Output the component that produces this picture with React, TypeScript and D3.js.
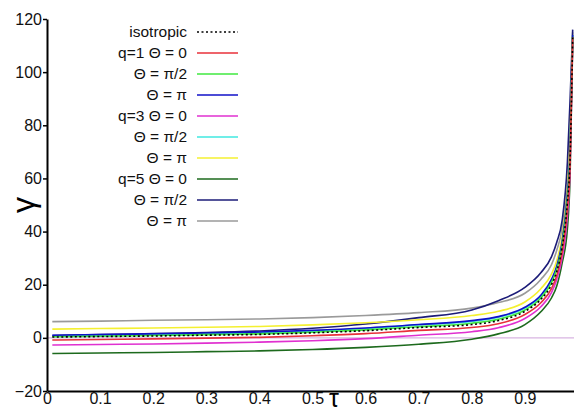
import React, { useEffect, useRef } from "react";
import * as d3 from "d3";

// tau sample points
const tau = [0.01, 0.1, 0.2, 0.3, 0.4, 0.5, 0.6, 0.7, 0.8, 0.85, 0.9, 0.93, 0.95, 0.96, 0.97, 0.98, 0.985, 0.99];

const isotropic = [0.3, 0.5, 0.7, 1.0, 1.3, 1.9, 2.7, 3.9, 5.0, 6.5, 10.0, 14.5, 20.0, 25.0, 34, 51, 67, 113];
const q1Theta0 = [-0.8, -0.6, -0.4, -0.1, 0.2, 0.8, 1.6, 2.8, 3.9, 5.3, 8.8, 13.2, 18.5, 23.5, 32, 49, 65, 113];
const q1ThetaHalfPi = [0.4, 0.6, 0.9, 1.2, 1.5, 2.1, 3.0, 4.2, 5.5, 7.0, 10.5, 15, 20.8, 25.8, 34.5, 52, 68, 113];
const q1ThetaPi = [1.0, 1.2, 1.5, 1.8, 2.2, 2.8, 3.7, 5.0, 6.5, 8.0, 11.5, 16, 22, 27, 36, 54, 70, 114];
const q3Theta0 = [-2.7, -2.5, -2.3, -2.0, -1.6, -1.1, -0.3, 1.0, 2.3, 3.8, 7.3, 11.7, 17, 22, 30, 46, 63, 112];
const q3ThetaHalfPi = [0.6, 0.9, 1.2, 1.5, 1.9, 2.5, 3.5, 4.9, 6.2, 7.8, 11.2, 15.7, 21.5, 26.5, 35.5, 53, 69, 114];
const q3ThetaPi = [3.3, 3.5, 3.7, 4.0, 4.3, 4.9, 5.7, 6.8, 8.4, 10.0, 13.5, 18.5, 24, 29, 38, 56, 73, 114];
const q5Theta0 = [-5.9, -5.7, -5.5, -5.2, -4.9, -4.4, -3.6, -2.4, -0.5, 1.5, 5.0, 9.8, 15, 19.5, 28, 41, 60, 111];
const q5ThetaHalfPi = [0.9, 1.2, 1.6, 2.0, 2.6, 3.6, 5.2, 7.6, 10.5, 14.0, 19.0, 24.5, 30.5, 36, 44, 66, 89, 116];
const q5ThetaPi = [6.1, 6.3, 6.6, 6.8, 7.1, 7.6, 8.4, 9.5, 11.2, 13.3, 16.8, 22, 27.5, 33, 41, 60, 80, 115];

const legendLabels = [
  "isotropic",
  "q=1 \u0398 = 0",
  "\u0398 = \u03c0/2",
  "\u0398 = \u03c0",
  "q=3 \u0398 = 0",
  "\u0398 = \u03c0/2",
  "\u0398 = \u03c0",
  "q=5 \u0398 = 0",
  "\u0398 = \u03c0/2",
  "\u0398 = \u03c0",
];

const xTicks = [0, 0.1, 0.2, 0.3, 0.4, 0.5, 0.6, 0.7, 0.8, 0.9];
const yTicks = [-20, 0, 20, 40, 60, 80, 100, 120];

const series = [
  { values: isotropic, color: "#000000", dash: "2,2.5" },
  { values: q1Theta0, color: "#e8303a", dash: null },
  { values: q1ThetaHalfPi, color: "#3fe83f", dash: null },
  { values: q1ThetaPi, color: "#1010c8", dash: null },
  { values: q3Theta0, color: "#e030d0", dash: null },
  { values: q3ThetaHalfPi, color: "#40e8e0", dash: null },
  { values: q3ThetaPi, color: "#f4f030", dash: null },
  { values: q5Theta0, color: "#1d6a1d", dash: null },
  { values: q5ThetaHalfPi, color: "#1c1c78", dash: null },
  { values: q5ThetaPi, color: "#9a9a9a", dash: null },
];

const W = 574;
const H = 414;
const FONT = "'Liberation Sans', Arial, Helvetica, sans-serif";

export default function App() {
  const svgRef = useRef<SVGSVGElement>(null);

  useEffect(() => {
    if (!svgRef.current) return;
    const svg = d3.select(svgRef.current);
    svg.selectAll("*").remove();

    const x = d3.scaleLinear().domain([0, 1]).range([47, 578]);
    const y = d3.scaleLinear().domain([-20, 120]).range([391, 19]);

    // zero reference line
    svg.append("line")
      .attr("x1", x(0)).attr("x2", W)
      .attr("y1", y(0)).attr("y2", y(0))
      .attr("stroke", "#d8b4e2").attr("stroke-width", 1.2);

    const line = d3.line<number>()
      .x((_, i) => x(tau[i]))
      .y((d) => y(d))
      .curve(d3.curveMonotoneX);

    // draw back to front so the dashed isotropic curve stays on top
    const order = [9, 8, 7, 6, 5, 4, 3, 2, 1, 0];
    order.forEach((k) => {
      const s = series[k];
      svg.append("path")
        .attr("d", line(s.values))
        .attr("fill", "none")
        .attr("stroke", s.color)
        .attr("stroke-width", 1.6)
        .attr("stroke-dasharray", s.dash ?? null);
    });

    // axes
    const yAxis = svg.append("g")
      .attr("transform", `translate(${x(0)},0)`)
      .call(d3.axisLeft(y).tickValues(yTicks).tickSize(4).tickSizeOuter(0).tickFormat((d) => d3.format("")(d as number).replace("-", "\u2212")));
    yAxis.select(".domain").attr("stroke-width", 2);
    yAxis.selectAll(".tick line").attr("stroke-width", 1.5);
    yAxis.selectAll("text").attr("font-size", 16).attr("font-family", FONT).attr("fill", "#111").attr("x", -5);

    const xAxis = svg.append("g")
      .attr("transform", `translate(0,${y(-20)})`)
      .call(d3.axisBottom(x).tickValues(xTicks).tickSize(0).tickSizeOuter(0).tickFormat((d) => (d === 0 ? "0" : d3.format(".1f")(d as number))));
    xAxis.select(".domain").attr("stroke-width", 2);
    xAxis.selectAll("text").attr("font-size", 16).attr("font-family", FONT).attr("fill", "#111").attr("y", 2);

    // axis labels
    svg.append("text")
      .attr("transform", "translate(34,205) rotate(-90)")
      .attr("text-anchor", "middle")
      .attr("font-family", FONT)
      .attr("font-size", 32)
      .text("\u03b3");
    svg.append("text")
      .attr("x", 334).attr("y", 407)
      .attr("text-anchor", "middle")
      .attr("font-family", FONT)
      .attr("font-size", 25)
      .text("\u03c4");

    // legend
    const legend = svg.append("g");
    legendLabels.forEach((label, i) => {
      const ly = 32 + i * 21;
      legend.append("text")
        .attr("x", 187).attr("y", ly)
        .attr("dy", "0.35em")
        .attr("text-anchor", "end")
        .attr("font-family", FONT)
        .attr("font-size", 15.5)
        .attr("fill", "#111")
        .text(label);
      legend.append("line")
        .attr("x1", 197).attr("x2", 238)
        .attr("y1", ly).attr("y2", ly)
        .attr("stroke", series[i].color)
        .attr("stroke-width", 1.6)
        .attr("stroke-dasharray", series[i].dash ?? null);
    });
  }, []);

  return (
    <svg
      ref={svgRef}
      width={W}
      height={H}
      style={{ position: "absolute", left: 0, top: 0, background: "#fff", overflow: "hidden" }}
    />
  );
}
